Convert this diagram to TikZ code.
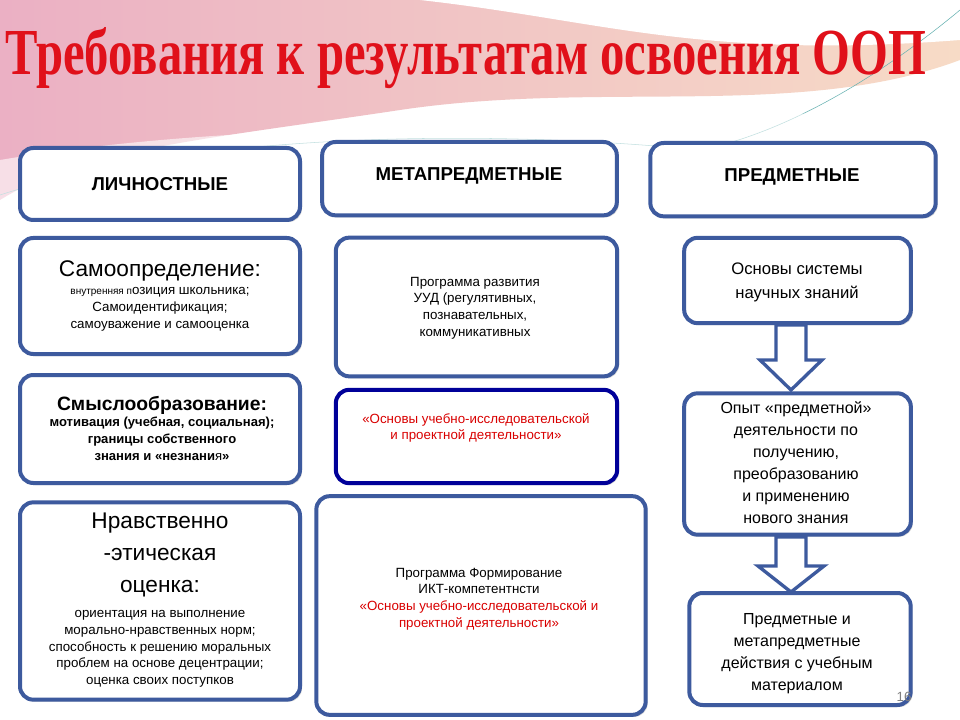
\documentclass[tikz,border=0pt]{standalone}
\usepackage{fontspec}
\setmainfont{Liberation Sans}
\newfontfamily\titlefont{Liberation Serif}
\usetikzlibrary{shadows}
\definecolor{bord}{HTML}{3D5A9E}
\definecolor{titred}{HTML}{E0101A}
\definecolor{pinkA}{HTML}{EBB0C4}
\definecolor{peach}{HTML}{F5D2B8}
\begin{document}
\begin{tikzpicture}[x=0.75pt,y=-0.75pt,
  bx/.style={draw=bord,line width=3pt,rounded corners=10pt,fill=white,
    drop shadow={shadow xshift=1.5pt,shadow yshift=-1.5pt,fill=gray!60}},
  hd/.style={font=\bfseries\fontsize{14}{16}\selectfont},
  txt/.style={align=center,font=\fontsize{10}{12.5}\selectfont},
  arr/.style={draw=bord,line width=2.5pt,fill=white,line join=miter}]
\useasboundingbox (0,0) rectangle (960,720);
\fill[white] (0,0) rectangle (960,720);
% background swoosh
\shade[left color=pinkA,right color=peach!80] (0,0) -- (960,0) -- (960,60) .. controls (800,120) and (600,80) .. (400,110) .. controls (200,140) and (80,150) .. (0,200) -- cycle;
\fill[white] (420,0) .. controls (600,20) and (700,60) .. (960,40) -- (960,0) -- cycle;
\draw[teal!60,thin] (0,195) .. controls (200,130) and (500,130) .. (700,150) .. controls (800,130) and (900,60) .. (960,10);
\fill[white,opacity=0.6] (0,160) .. controls (300,110) and (600,140) .. (960,100) -- (960,130) .. controls (600,170) and (300,140) .. (0,210) -- cycle;
% title
\node (title) at (466,58) {\titlefont\bfseries\fontsize{36.5}{40}\selectfont\color{titred}\scalebox{1}[1.35]{Требования к результатам освоения ООП}};
% headers
\node[bx,minimum width=210pt,minimum height=54pt,hd] (h1) at (160,184) {ЛИЧНОСТНЫЕ};
\node[bx,minimum width=221pt,minimum height=55pt,hd,anchor=north] (h2) at (469.5,140) {};
\node[hd] (h2t) at (469,176) {МЕТАПРЕДМЕТНЫЕ};
\node[bx,minimum width=214pt,minimum height=55pt,anchor=north] (h3) at (793,141) {};
\node[hd] (h3t) at (792,177) {ПРЕДМЕТНЫЕ};
% left column
\node[bx,minimum width=210pt,minimum height=87pt] (l1) at (160,296) {};
\node[txt] (l1t) at (160,296) {{\fontsize{17}{20}\selectfont Самоопределение:}\\[1pt]
{\fontsize{7.5}{10}\selectfont внутренняя п}озиция школьника;\\Самоидентификация;\\самоуважение и самооценка};
\node[bx,minimum width=210pt,minimum height=81pt] (l2) at (160,429) {};
\node[txt,font=\bfseries\fontsize{9.8}{12.5}\selectfont] (l2t) at (162,428) {{\fontsize{14.5}{17}\selectfont Смыслообразование:}\\мотивация (учебная, социальная);\\границы собственного\\знания и «незнани{\mdseries я}»};
\node[bx,minimum width=210pt,minimum height=148pt] (l3) at (160,601) {};
\node[txt,font=\fontsize{17}{24}\selectfont] (l3h) at (160,555) {Нравственно\\-этическая\\оценка:};
\node[txt] (l3t) at (160,649) {ориентация на выполнение\\морально-нравственных норм;\\способность к решению моральных\\проблем на основе децентрации;\\оценка своих поступков};
% middle column
\node[bx,minimum width=211pt,minimum height=104pt] (m1) at (476.5,307) {};
\node[txt] (m1t) at (475,308) {Программа развития\\УУД (регулятивных,\\познавательных,\\коммуникативных};
\node[bx,draw=blue!60!black,minimum width=211pt,minimum height=70pt] (m2) at (476.5,436.5) {};
\node[txt,text=red!85!black] (m2t) at (476,428) {«Основы учебно-исследовательской\\и проектной деятельности»};
\node[bx,minimum width=247pt,minimum height=164pt] (m3) at (481,605.5) {};
\node[txt] (m3t) at (479,599) {Программа Формирование\\ИКТ-компетентнсти\\{\color{red!85!black}«Основы учебно-исследовательской и}\\{\color{red!85!black}проектной деятельности»}};
% right column
\node[bx,minimum width=170pt,minimum height=64pt] (r1) at (797.5,280.5) {};
\node[txt,font=\fontsize{12.5}{18}\selectfont] (r1t) at (797,282) {Основы системы\\научных знаний};
\node[bx,minimum width=170pt,minimum height=106pt] (r2) at (797.5,464) {};
\node[txt,font=\fontsize{12}{16.5}\selectfont] (r2t) at (796,463) {Опыт «предметной»\\деятельности по\\получению,\\преобразованию\\и применению\\нового знания};
\node[bx,minimum width=166pt,minimum height=84pt] (r3) at (800,649) {};
\node[txt,font=\fontsize{12}{16.5}\selectfont] (r3t) at (797,654) {Предметные и\\метапредметные\\действия с учебным\\материалом};
% arrows
\draw[arr] (776,325) -- (806,325) -- (806,360) -- (822,360) -- (791,390) -- (760,360) -- (776,360) -- cycle;
\draw[arr] (776,537) -- (806,537) -- (806,566) -- (824,566) -- (791,592) -- (758,566) -- (776,566) -- cycle;
\node[font=\fontsize{10}{12}\selectfont,text=gray] (pg) at (904,697) {16};
\end{tikzpicture}
\end{document}
